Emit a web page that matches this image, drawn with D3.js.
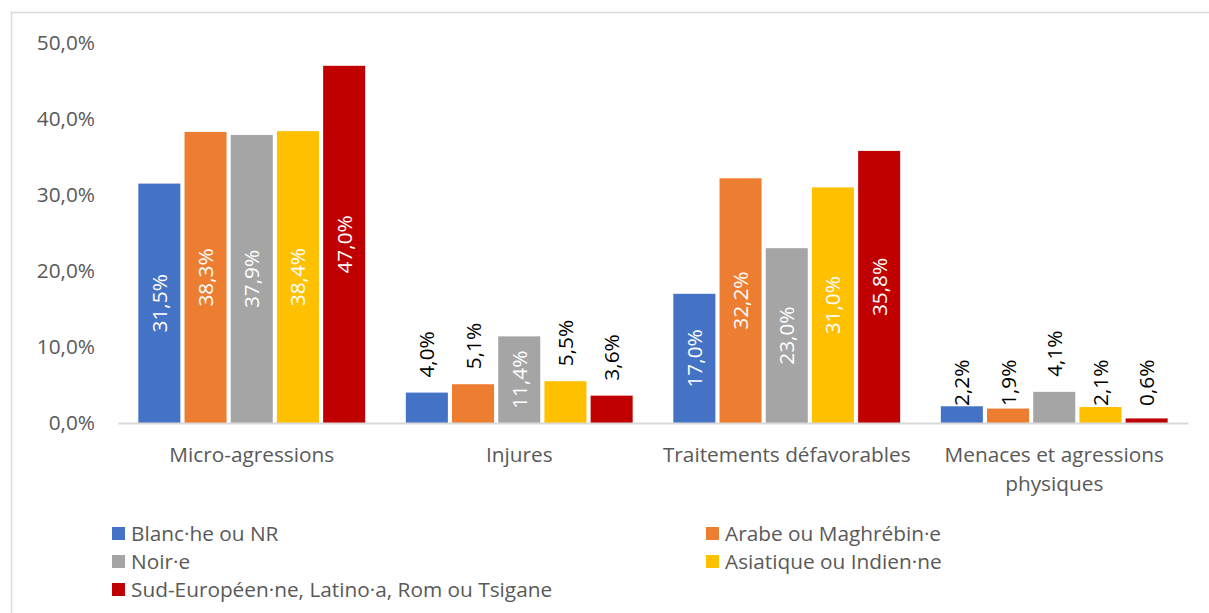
<!DOCTYPE html>
<html>
<head>
<meta charset="utf-8">
<script src="https://cdn.jsdelivr.net/npm/d3@7"></script>
<style>
  html, body { margin: 0; padding: 0; background: #fff; }
  svg { display: block; font-family: "Open Sans", "Noto Sans", sans-serif; }
</style>
</head>
<body>
<svg id="chart" width="1209" height="613"></svg>
<script>
// ---- data ----
const categories = ["Micro-agressions", "Injures", "Traitements défavorables", "Menaces et agressions physiques"];
const seriesNames = ["Blanc·he ou NR", "Arabe ou Maghrébin·e", "Noir·e", "Asiatique ou Indien·ne", "Sud-Européen·ne, Latino·a, Rom ou Tsigane"];
const seriesColors = ["#4472C4", "#ED7D31", "#A5A5A5", "#FFC000", "#C00000"];
const blancValues = [31.5, 4.0, 17.0, 2.2];
const arabeValues = [38.3, 5.1, 32.2, 1.9];
const noirValues = [37.9, 11.4, 23.0, 4.1];
const asiatiqueValues = [38.4, 5.5, 31.0, 2.1];
const sudValues = [47.0, 3.6, 35.8, 0.6];
const yTicks = [0, 10, 20, 30, 40, 50];

const seriesValues = [blancValues, arabeValues, noirValues, asiatiqueValues, sudValues];

const fmt = v => v.toFixed(1).replace(".", ",") + "%";

const svg = d3.select("#chart");
const plot = { left: 118, right: 1188, top: 43, bottom: 423 };
const textColor = "#595959";
const fontSize = 20.8;

// outer chart border
svg.append("rect")
  .attr("x", 11.5).attr("y", 12.5)
  .attr("width", 1300).attr("height", 800)
  .attr("fill", "none").attr("stroke", "#D9D9D9").attr("stroke-width", 1.5);

const y = d3.scaleLinear().domain([0, 50]).range([plot.bottom, plot.top]);
const x0 = d3.scaleBand().domain(d3.range(categories.length))
  .range([plot.left, plot.right]).paddingInner(0.152).paddingOuter(0.076);
const x1 = d3.scaleBand().domain(d3.range(seriesNames.length))
  .range([0, x0.bandwidth()]).paddingInner(0.09).paddingOuter(0);

// y axis labels
const yAxis = d3.axisLeft(y).tickValues(yTicks).tickSize(0).tickPadding(0).tickFormat(fmt);
const yg = svg.append("g").attr("transform", `translate(${95},0)`).call(yAxis);
yg.select(".domain").remove();
yg.selectAll("text").attr("fill", textColor).style("font-size", fontSize + "px")
  .style("font-family", '"Open Sans", sans-serif');

// bars
const data = [];
categories.forEach((c, ci) => {
  seriesValues.forEach((vals, si) => data.push({ ci, si, v: vals[ci] }));
});

svg.append("g").selectAll("rect.bar").data(data).enter().append("rect")
  .attr("class", "bar")
  .attr("x", d => x0(d.ci) + x1(d.si))
  .attr("y", d => y(d.v))
  .attr("width", x1.bandwidth())
  .attr("height", d => y(0) - y(d.v))
  .attr("fill", d => seriesColors[d.si]);

// baseline
const xAxis = d3.axisBottom(x0).tickSize(0).tickFormat("");
const xg = svg.append("g").attr("transform", `translate(0,${y(0)})`).call(xAxis);
xg.select(".domain").attr("stroke", "#D9D9D9").attr("stroke-width", 2.2);
xg.selectAll("text").remove();

// category labels (with wrapping)
categories.forEach((c, ci) => {
  const cx = x0(ci) + x0.bandwidth() / 2;
  const t = svg.append("text")
    .attr("text-anchor", "middle")
    .attr("fill", textColor)
    .style("font-size", fontSize + "px");
  const words = c.split(" ");
  let lines = [];
  let line = [];
  const maxW = x0.step();
  const probe = t.append("tspan");
  words.forEach(w => {
    line.push(w);
    probe.text(line.join(" "));
    if (probe.node().getComputedTextLength() > maxW && line.length > 1) {
      line.pop();
      lines.push(line.join(" "));
      line = [w];
    }
  });
  lines.push(line.join(" "));
  probe.remove();
  lines.forEach((l, li) => {
    t.append("tspan").attr("x", cx).attr("y", y(0) + 39 + li * 28.5).text(l);
  });
});

// data labels
const lbl = svg.append("g");
data.forEach(d => {
  const cx = x0(d.ci) + x1(d.si) + x1.bandwidth() / 2;
  const barTop = y(d.v);
  const barH = y(0) - barTop;
  const t = lbl.append("text")
    .style("font-size", fontSize + "px")
    .attr("dy", "0.36em")
    .text(fmt(d.v));
  const L = t.node().getComputedTextLength();
  if (barH >= L + 10) {
    t.attr("text-anchor", "middle")
      .attr("fill", "#FFFFFF")
      .attr("transform", `translate(${cx},${barTop + barH / 2}) rotate(-90)`);
  } else {
    const bottom = barH < 20 ? y(0) - 17 : barTop - 15;
    t.attr("text-anchor", "start")
      .attr("fill", "#000000")
      .attr("transform", `translate(${cx},${bottom}) rotate(-90)`);
  }
});

// legend
const legendCols = [112, 706];
const legendRows = [533.5, 561.5, 589.5];
const leg = svg.append("g");
seriesNames.forEach((name, i) => {
  const col = i % 2, row = Math.floor(i / 2);
  const lx = legendCols[col], ly = legendRows[row];
  leg.append("rect")
    .attr("x", lx).attr("y", ly - 6.5)
    .attr("width", 13).attr("height", 13)
    .attr("fill", seriesColors[i]);
  leg.append("text")
    .attr("x", lx + 19).attr("y", ly).attr("dy", "0.36em")
    .attr("fill", textColor)
    .style("font-size", fontSize + "px")
    .text(name);
});
</script>
</body>
</html>
